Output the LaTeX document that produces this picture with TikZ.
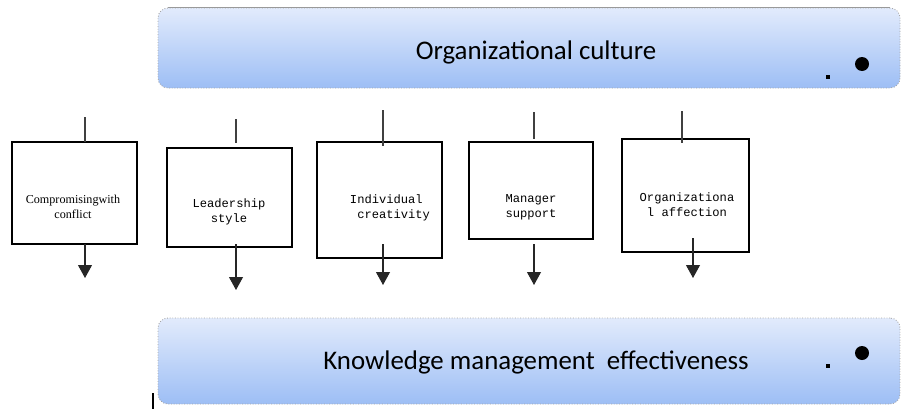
\documentclass[tikz,border=0pt]{standalone}
\usepackage{fontspec}
\newfontfamily\bannerfont{Carlito}
\newfontfamily\boxserif{Liberation Serif}
\newfontfamily\boxmono{Liberation Mono}
\usetikzlibrary{arrows.meta}
\definecolor{bannertop}{RGB}{226,235,252}
\definecolor{bannerbot}{RGB}{157,190,245}
\def\px{0.02cm}
\tikzset{
  banner/.style={rectangle, rounded corners=0.2cm, top color=bannertop, bottom color=bannerbot,
    draw=gray!70, densely dotted, line width=0.5pt, inner sep=0pt},
  bannertext/.style={font=\bannerfont\fontsize{15.3}{18}\selectfont, anchor=base, inner sep=0pt},
  factorbox/.style={rectangle, draw=black, line width=0.6pt, inner sep=0pt},
  factortext/.style={inner sep=0pt},
  feed/.style={draw=black!75, line width=0.6pt},
  effect/.style={draw=black!85, line width=0.6pt, -{Triangle[length=0.26cm,width=0.28cm]}}
}
\begin{document}
\begin{tikzpicture}[x=\px,y=-\px]
  \useasboundingbox (0,0) rectangle (902,409);
  % Banners
  \node[banner, minimum width=742*\px, minimum height=80*\px] (culture) at (529,48) {};
  \draw[gray!80, line width=0.6pt] ([xshift=0.2cm]culture.north west) -- ([xshift=-0.2cm]culture.north east);
  \node[bannertext] (culturetxt) at (536,59) {Organizational culture};
  \node[banner, minimum width=742*\px, minimum height=86*\px] (kme) at (529,361) {};
  \node[bannertext] (kmetxt) at (536,369) {Knowledge management\ \ effectiveness};
  % Dots on the banners
  \foreach \y in {0,289} {
    \fill[black] (862,64+\y) circle (7*\px);
    \fill[black] (826,75+\y) rectangle (830,79+\y);
  }
  % Stray mark
  \draw[black, line width=1.2pt] (153,393) -- (153,409);
  % Factor boxes: name/left/right/top/bottom/line x/line y1/line y2/arrow x/arrow y1/tip/text x/text y/font/align/text
  \foreach \n/\xl/\xr/\yt/\yb/\lx/\lya/\lyb/\ax/\aya/\ayb/\tx/\ty/\tf/\al/\txt in {
      1/12/137/142/244/85/117/142/85/244/278/73/207/\boxserif/center/{Compromisingwith\\conflict},
      2/167/292/148/247/236/119/143/236/244/290/229/212/\boxmono/center/{Leadership\\style},
      3/317/442/142/258/383/110/146/383/244/285/390/208/\boxmono/left/{Individual\\\ creativity},
      4/469/593/142/239/534/112/139/534/244/285/531/207/\boxmono/center/{Manager\\support},
      5/622/749/139/252/682/111/143/693/238/278/687/205/\boxmono/center/{Organizationa\\l affection}} {
    \node[factorbox, minimum width={(\xr-\xl)*\px}, minimum height={(\yb-\yt)*\px}]
      (box\n) at ({(\xl+\xr)/2},{(\yt+\yb)/2}) {};
    \node[factortext, align=\al, font=\tf\fontsize{6.9}{8.5}\selectfont] (txt\n) at (\tx,\ty) {\txt};
    \coordinate (in\n) at (\lx,\lya);
    \coordinate (inend\n) at (\lx,\lyb);
    \coordinate (out\n) at (\ax,\aya);
    \coordinate (tip\n) at (\ax,\ayb);
    \draw[feed] (in\n) -- (inend\n);
    \draw[effect] (out\n) -- (tip\n);
  }
\end{tikzpicture}
\end{document}
